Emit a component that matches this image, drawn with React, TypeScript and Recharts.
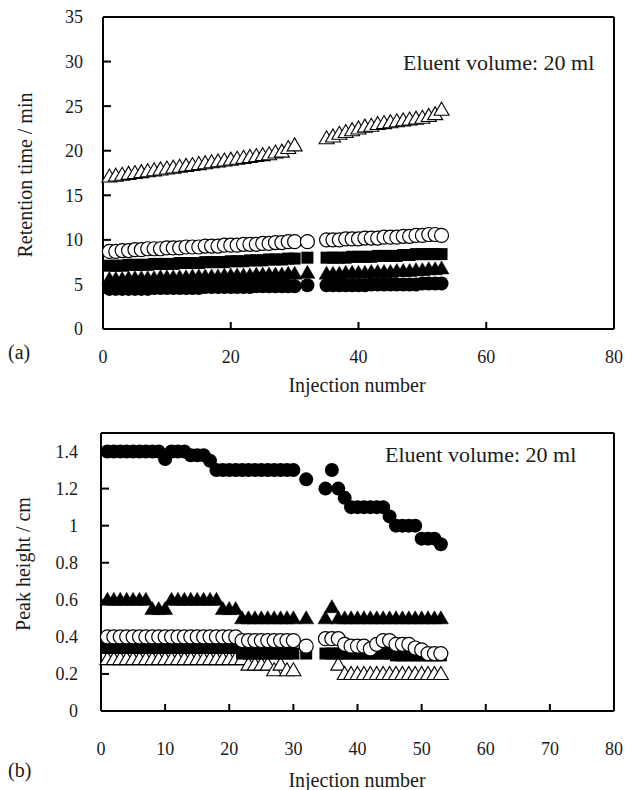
import { ScatterChart, Scatter, XAxis, YAxis, ReferenceLine } from 'recharts';

// injection numbers that were measured (31, 33 and 34 are missing)
const injections = [
  1, 2, 3, 4, 5, 6, 7, 8, 9, 10, 11, 12, 13, 14, 15, 16, 17, 18, 19, 20, 21, 22, 23, 24, 25, 26, 27, 28, 29, 30,
  32,
  35, 36, 37, 38, 39, 40, 41, 42, 43, 44, 45, 46, 47, 48, 49, 50, 51, 52, 53,
];

// (a) retention time / min
const rtOpenTriangle = [
  17.1, 17.2, 17.3, 17.4, 17.5, 17.6, 17.7, 17.8, 17.9, 18.0, 18.1, 18.2, 18.3, 18.4, 18.5, 18.6, 18.7, 18.8, 18.9, 19.0,
  19.1, 19.2, 19.3, 19.4, 19.5, 19.6, 19.8, 19.9, 20.3, 20.6,
  null,
  21.4, 21.6, 21.9, 22.1, 22.3, 22.5, 22.7, 22.8, 23.0, 23.1, 23.2, 23.3, 23.4, 23.5, 23.6, 23.7, 23.9, 24.1, 24.6,
];
const rtOpenCircle = [
  8.7, 8.7, 8.8, 8.8, 8.9, 8.9, 9.0, 9.0, 9.0, 9.1, 9.1, 9.1, 9.2, 9.2, 9.2, 9.3, 9.3, 9.3, 9.4, 9.4,
  9.4, 9.5, 9.5, 9.5, 9.6, 9.6, 9.7, 9.7, 9.8, 9.8,
  9.8,
  10.0, 10.0, 10.0, 10.1, 10.1, 10.1, 10.2, 10.2, 10.2, 10.3, 10.3, 10.3, 10.4, 10.4, 10.5, 10.5, 10.6, 10.6, 10.5,
];
const rtSquare = [
  7.1, 7.1, 7.1, 7.2, 7.2, 7.2, 7.2, 7.3, 7.3, 7.3, 7.3, 7.4, 7.4, 7.4, 7.4, 7.5, 7.5, 7.5, 7.5, 7.6,
  7.6, 7.6, 7.7, 7.7, 7.7, 7.8, 7.8, 7.8, 7.9, 7.9,
  8.0,
  8.0, 8.0, 8.0, 8.0, 8.1, 8.1, 8.1, 8.1, 8.2, 8.2, 8.2, 8.2, 8.3, 8.3, 8.4, 8.4, 8.4, 8.4, 8.4,
];
const rtFilledTriangle = [
  5.6, 5.6, 5.6, 5.7, 5.7, 5.7, 5.7, 5.7, 5.8, 5.8, 5.8, 5.8, 5.8, 5.9, 5.9, 5.9, 5.9, 5.9, 6.0, 6.0,
  6.0, 6.0, 6.0, 6.1, 6.1, 6.1, 6.1, 6.1, 6.2, 6.2,
  6.3,
  6.2, 6.2, 6.2, 6.3, 6.3, 6.3, 6.3, 6.4, 6.4, 6.4, 6.4, 6.5, 6.5, 6.5, 6.6, 6.6, 6.7, 6.7, 6.8,
];
const rtFilledCircle = [
  4.5, 4.5, 4.5, 4.5, 4.5, 4.5, 4.5, 4.6, 4.6, 4.6, 4.6, 4.6, 4.6, 4.6, 4.6, 4.7, 4.7, 4.7, 4.7, 4.7,
  4.7, 4.7, 4.7, 4.8, 4.8, 4.8, 4.8, 4.8, 4.8, 4.8,
  4.9,
  4.9, 4.9, 4.9, 4.9, 4.9, 4.9, 4.9, 5.0, 5.0, 5.0, 5.0, 5.0, 5.0, 5.0, 5.0, 5.1, 5.1, 5.1, 5.1,
];

// (b) peak height / cm
const phFilledCircle = [
  1.4, 1.4, 1.4, 1.4, 1.4, 1.4, 1.4, 1.4, 1.4, 1.36, 1.4, 1.4, 1.4, 1.38, 1.38, 1.38, 1.35, 1.3, 1.3, 1.3,
  1.3, 1.3, 1.3, 1.3, 1.3, 1.3, 1.3, 1.3, 1.3, 1.3,
  1.25,
  1.2, 1.3, 1.2, 1.15, 1.1, 1.1, 1.1, 1.1, 1.1, 1.1, 1.05, 1.0, 1.0, 1.0, 1.0, 0.93, 0.93, 0.93, 0.9,
];
const phFilledTriangle = [
  0.6, 0.6, 0.6, 0.6, 0.6, 0.6, 0.6, 0.55, 0.55, 0.55, 0.6, 0.6, 0.6, 0.6, 0.6, 0.6, 0.6, 0.6, 0.55, 0.55,
  0.55, 0.5, 0.5, 0.5, 0.5, 0.5, 0.5, 0.5, 0.5, 0.5,
  0.5,
  0.5, 0.56, 0.5, 0.5, 0.5, 0.5, 0.5, 0.5, 0.5, 0.5, 0.5, 0.5, 0.5, 0.5, 0.5, 0.5, 0.5, 0.5, 0.5,
];
const phOpenCircle = [
  0.4, 0.4, 0.4, 0.4, 0.4, 0.4, 0.4, 0.4, 0.4, 0.4, 0.4, 0.4, 0.4, 0.4, 0.4, 0.4, 0.4, 0.4, 0.4, 0.4,
  0.4, 0.38, 0.38, 0.38, 0.38, 0.38, 0.38, 0.38, 0.38, 0.38,
  0.35,
  0.39, 0.39, 0.39, 0.36, 0.35, 0.35, 0.35, 0.335, 0.36, 0.38, 0.38, 0.36, 0.36, 0.36, 0.34, 0.33, 0.31, 0.31, 0.31,
];
const phSquare = [
  0.34, 0.34, 0.34, 0.34, 0.34, 0.34, 0.34, 0.34, 0.34, 0.34, 0.34, 0.34, 0.34, 0.34, 0.34, 0.34, 0.34, 0.34, 0.34, 0.34,
  0.34, 0.31, 0.31, 0.31, 0.31, 0.31, 0.31, 0.31, 0.31, 0.31,
  0.31,
  0.31, 0.31, 0.31, 0.31, 0.31, 0.31, 0.31, 0.31, 0.31, 0.31, 0.31, 0.3, 0.3, 0.3, 0.3, 0.3, 0.3, 0.3, 0.3,
];
const phOpenTriangle = [
  0.28, 0.28, 0.28, 0.28, 0.28, 0.28, 0.28, 0.28, 0.28, 0.28, 0.28, 0.28, 0.28, 0.28, 0.28, 0.28, 0.28, 0.28, 0.28, 0.28,
  0.28, 0.28, 0.25, 0.25, 0.25, 0.25, 0.22, 0.25, 0.22, 0.22,
  null,
  null, null, 0.25, 0.2, 0.2, 0.2, 0.2, 0.2, 0.2, 0.2, 0.2, 0.2, 0.2, 0.2, 0.2, 0.2, 0.2, 0.2, 0.2,
];

const rtTicksX = [0, 20, 40, 60, 80];
const rtTicksY = [0, 5, 10, 15, 20, 25, 30, 35];
const phTicksX = [0, 10, 20, 30, 40, 50, 60, 70, 80];
const phTicksY = [0, 0.2, 0.4, 0.6, 0.8, 1, 1.2, 1.4];

const serif = '"Liberation Serif", "DejaVu Serif", serif';

function toPoints(values: (number | null)[]) {
  return injections
    .map((x, i) => ({ x, y: values[i] }))
    .filter((p) => p.y !== null);
}

const openCircle = (p: any) => (
  <circle cx={p.cx} cy={p.cy} r={7} fill="#fff" stroke="#000" strokeWidth={1.2} />
);
const filledCircle = (p: any) => <circle cx={p.cx} cy={p.cy} r={7} fill="#000" />;
const square = (p: any) => <rect x={p.cx - 6} y={p.cy - 6} width={12} height={12} fill="#000" />;
const triangle = (filled: boolean) => (p: any) => (
  <path
    d={`M${p.cx},${p.cy - 7.5} L${p.cx + 7.5},${p.cy + 5.5} L${p.cx - 7.5},${p.cy + 5.5} Z`}
    fill={filled ? '#000' : '#fff'}
    stroke="#000"
    strokeWidth={filled ? 0.5 : 1.1}
  />
);

const axisLine = { stroke: '#000', strokeWidth: 2 };
const tickStyle = { fill: '#1a1a1a', fontSize: 18, fontFamily: serif };

const textBase: React.CSSProperties = {
  position: 'absolute',
  fontFamily: serif,
  color: '#1a1a1a',
  whiteSpace: 'nowrap',
  lineHeight: 1,
};

export default function App() {
  return (
    <div style={{ position: 'absolute', left: 0, top: 0, width: 625, height: 790, background: '#fff' }}>
      <div style={{ position: 'absolute', left: 0, top: 0 }}>
        <ScatterChart width={625} height={400} margin={{ top: 17, right: 11, bottom: 0, left: 0 }}>
          <XAxis
            type="number"
            dataKey="x"
            domain={[0, 80]}
            ticks={rtTicksX}
            height={71}
            tickSize={-7}
            tickMargin={28}
            axisLine={axisLine}
            tickLine={axisLine}
            tick={tickStyle}
          />
          <YAxis
            type="number"
            dataKey="y"
            domain={[0, 35]}
            ticks={rtTicksY}
            width={103}
            tickSize={-8}
            tickMargin={28}
            axisLine={axisLine}
            tickLine={axisLine}
            tick={tickStyle}
          />
          <ReferenceLine y={35} stroke="#000" strokeWidth={2} />
          <ReferenceLine x={80} stroke="#000" strokeWidth={2} />
          <Scatter data={toPoints(rtOpenTriangle)} shape={triangle(false)} isAnimationActive={false} />
          <Scatter data={toPoints(rtFilledCircle)} shape={filledCircle} isAnimationActive={false} />
          <Scatter data={toPoints(rtFilledTriangle)} shape={triangle(true)} isAnimationActive={false} />
          <Scatter data={toPoints(rtSquare)} shape={square} isAnimationActive={false} />
          <Scatter data={toPoints(rtOpenCircle)} shape={openCircle} isAnimationActive={false} />
        </ScatterChart>
      </div>

      <div style={{ position: 'absolute', left: 0, top: 400 }}>
        <ScatterChart width={625} height={390} margin={{ top: 33, right: 11, bottom: 0, left: 0 }}>
          <XAxis
            type="number"
            dataKey="x"
            domain={[0, 80]}
            ticks={phTicksX}
            height={79}
            tickSize={-7}
            tickMargin={38}
            axisLine={axisLine}
            tickLine={axisLine}
            tick={tickStyle}
          />
          <YAxis
            type="number"
            dataKey="y"
            domain={[0, 1.5]}
            ticks={phTicksY}
            width={101}
            tickSize={-8}
            tickMargin={31}
            axisLine={axisLine}
            tickLine={axisLine}
            tick={tickStyle}
          />
          <ReferenceLine y={1.5} stroke="#000" strokeWidth={2} />
          <ReferenceLine x={80} stroke="#000" strokeWidth={2} />
          <Scatter data={toPoints(phOpenTriangle)} shape={triangle(false)} isAnimationActive={false} />
          <Scatter data={toPoints(phSquare)} shape={square} isAnimationActive={false} />
          <Scatter data={toPoints(phOpenCircle)} shape={openCircle} isAnimationActive={false} />
          <Scatter data={toPoints(phFilledTriangle)} shape={triangle(true)} isAnimationActive={false} />
          <Scatter data={toPoints(phFilledCircle)} shape={filledCircle} isAnimationActive={false} />
        </ScatterChart>
      </div>

      {/* titles and annotations */}
      <div style={{ ...textBase, fontSize: 20, left: 25, top: 175, transform: 'translate(-50%, -50%) rotate(-90deg)' }}>
        Retention time / min
      </div>
      <div style={{ ...textBase, fontSize: 20, left: 357, top: 385, transform: 'translate(-50%, -50%)' }}>
        Injection number
      </div>
      <div style={{ ...textBase, fontSize: 20, left: 8, top: 352, transform: 'translateY(-50%)' }}>(a)</div>
      <div style={{ ...textBase, fontSize: 22, left: 403, top: 63, transform: 'translateY(-50%)' }}>
        Eluent volume: 20 ml
      </div>

      <div style={{ ...textBase, fontSize: 20, left: 23, top: 564, transform: 'translate(-50%, -50%) rotate(-90deg)' }}>
        Peak height / cm
      </div>
      <div style={{ ...textBase, fontSize: 20, left: 357, top: 780, transform: 'translate(-50%, -50%)' }}>
        Injection number
      </div>
      <div style={{ ...textBase, fontSize: 20, left: 8, top: 770, transform: 'translateY(-50%)' }}>(b)</div>
      <div style={{ ...textBase, fontSize: 22, left: 385, top: 455, transform: 'translateY(-50%)' }}>
        Eluent volume: 20 ml
      </div>
    </div>
  );
}
